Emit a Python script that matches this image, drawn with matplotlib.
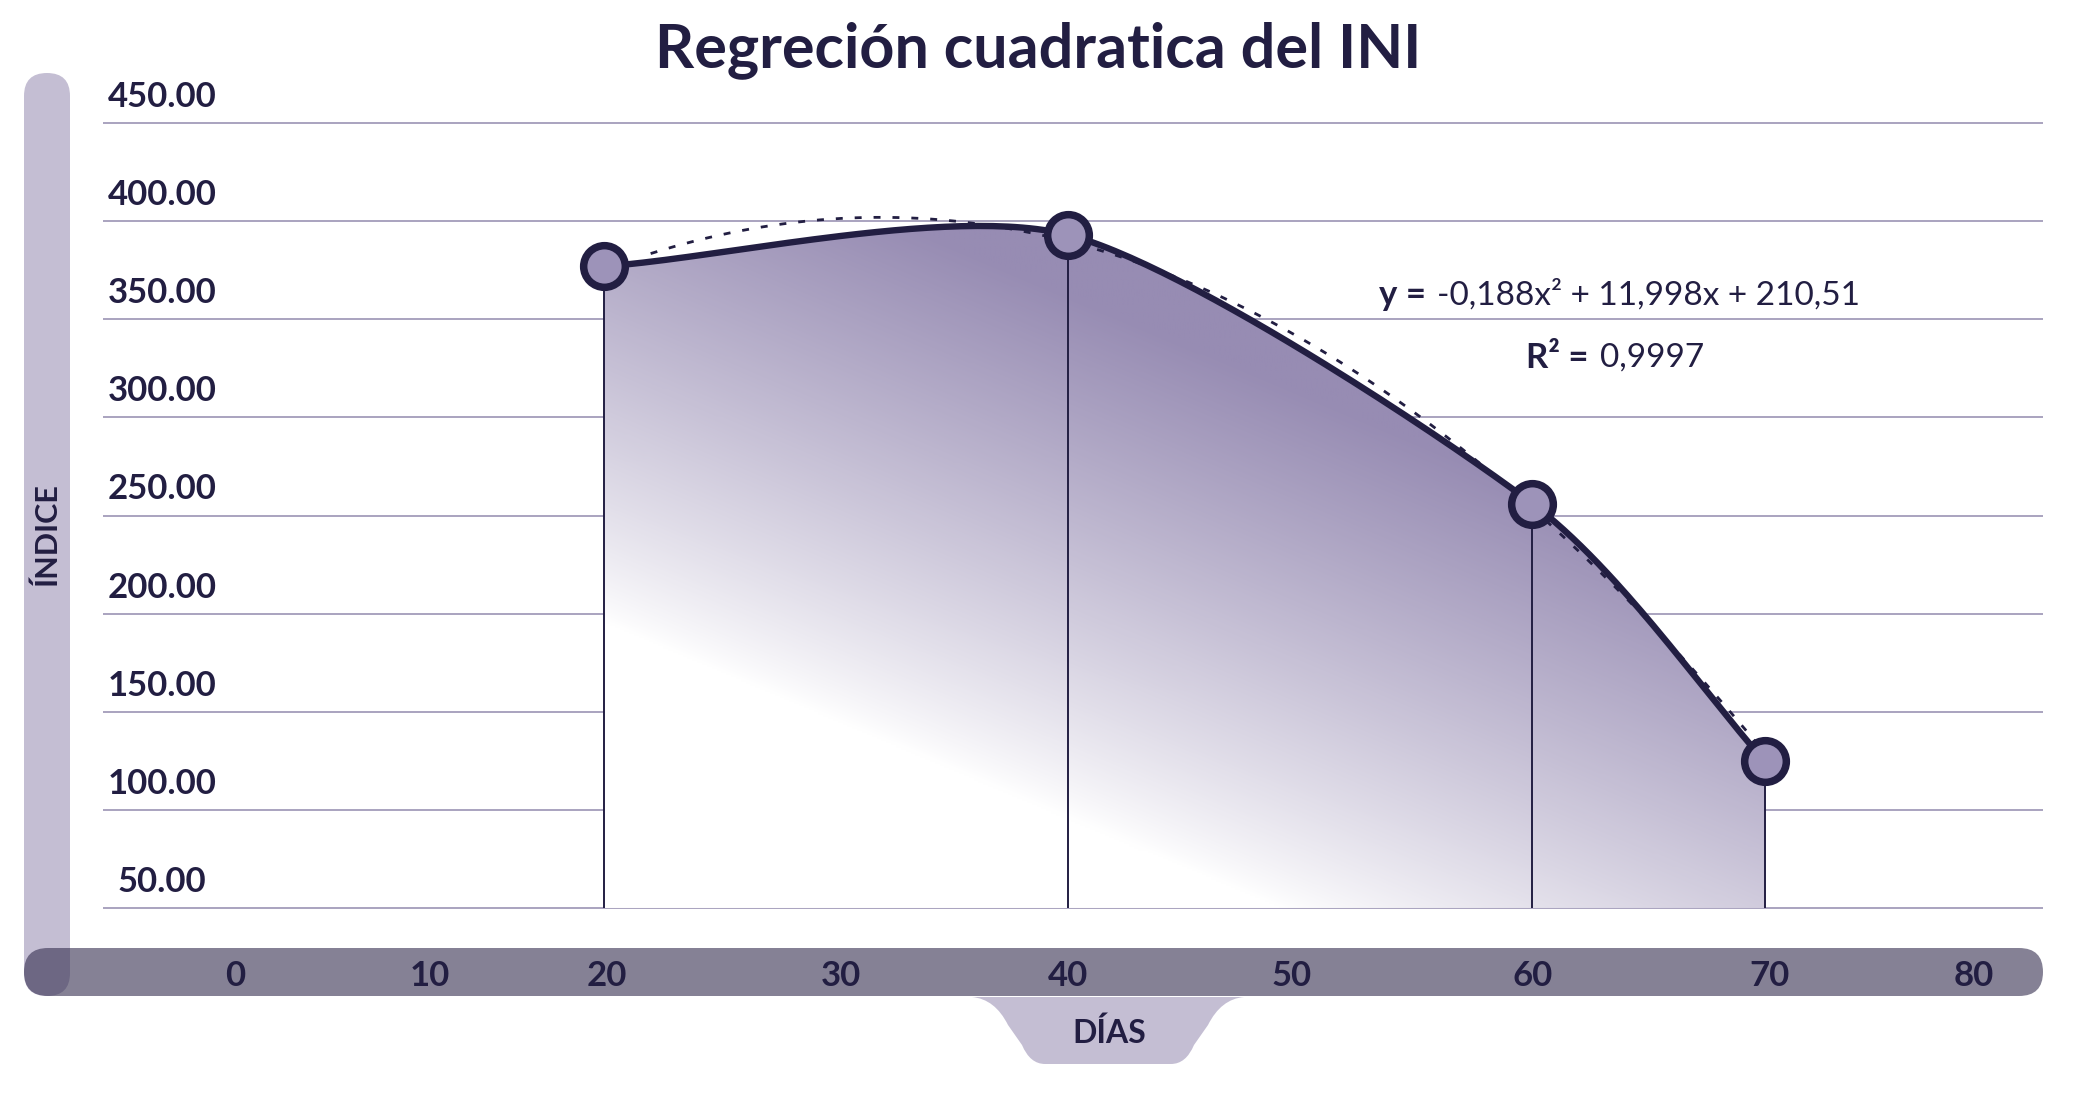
# Regresión cuadrática del INI - recreación con matplotlib
import numpy as np
import matplotlib.pyplot as plt
from matplotlib.patches import FancyBboxPatch, PathPatch, Polygon
from matplotlib.path import Path
from matplotlib.colors import LinearSegmentedColormap

plt.rcParams['font.family'] = ['Lato', 'DejaVu Sans']

# datos
dias = [20, 40, 60, 70]
indice = [377, 393, 256, 125]
coef = [-0.188, 11.998, 210.51]     # y = a x^2 + b x + c
fit_range = [22, 70]
y_ticks = [50, 100, 150, 200, 250, 300, 350, 400, 450]
x_labels = ['0', '10', '20', '30', '40', '50', '60', '70', '80']
x_label_pos = [4.1, 12.5, 20.1, 30.2, 40.0, 49.6, 60.0, 70.2, 79.0]

DARK = '#221e42'
PURPLE = '#978cb3'
GRID = '#a9a3bf'
LAV = '#c4bed3'

W, H = 2076, 1098
fig = plt.figure(figsize=(W / 100, H / 100), dpi=100)

# capa de fondo en pixeles
bg = fig.add_axes([0, 0, 1, 1], zorder=0)
bg.set_xlim(0, W)
bg.set_ylim(H, 0)
bg.axis('off')

# barra vertical izquierda
bg.add_patch(FancyBboxPatch((24, 73), 46, 923, boxstyle='round,pad=0,rounding_size=23',
                            fc=LAV, ec='none'))
# barra horizontal inferior
bg.add_patch(FancyBboxPatch((24, 948), 2019, 48, boxstyle='round,pad=0,rounding_size=24',
                            fc=(48 / 255, 42 / 255, 75 / 255), alpha=0.59, ec='none'))
# pestaña DÍAS
verts = [(972, 997), (995, 999), (1008, 1025), (1022, 1045), (1030, 1064), (1045, 1064),
         (1171, 1064), (1186, 1064), (1194, 1045), (1208, 1025), (1221, 999), (1244, 997),
         (972, 997)]
codes = [Path.MOVETO, Path.CURVE3, Path.CURVE3, Path.LINETO, Path.CURVE3, Path.CURVE3,
         Path.LINETO, Path.CURVE3, Path.CURVE3, Path.LINETO, Path.CURVE3, Path.CURVE3,
         Path.CLOSEPOLY]
bg.add_patch(PathPatch(Path(verts, codes), fc=LAV, ec='none'))
bg.text(1109, 1033, 'DÍAS', ha='center', va='center', fontsize=23, fontweight='bold', color=DARK)
bg.text(47, 534, 'ÍNDICE', ha='center', va='center', rotation=90, fontsize=22,
        fontweight='bold', color=DARK)

# ejes principales
x0, x1 = 103, 2043
ylo_px, yhi_px = 927.6, 103.4
ax = fig.add_axes([x0 / W, 1 - ylo_px / H, (x1 - x0) / W, (ylo_px - yhi_px) / H], zorder=1)
ax.patch.set_alpha(0)
ax.set_xlim(-1.6, 82.0)
ax.set_ylim(40, 460)
ax.axis('off')

for v in y_ticks:
    ax.axhline(v, color=GRID, lw=1.4, zorder=1)
    ax.text(0.0304, v + 13.3, f'{v:.2f}', transform=ax.get_yaxis_transform(),
            ha='center', va='center', fontsize=25, fontweight='bold', color=DARK)

for p, lab in zip(x_label_pos, x_labels):
    ax.text(p, -0.0587, lab, transform=ax.get_xaxis_transform(), ha='center', va='center',
            fontsize=25, fontweight='bold', color=DARK)

# linea suavizada (bezier tipo Catmull-Rom)
P = np.column_stack([dias, indice]).astype(float)
k = 0.25
T = np.zeros_like(P)
T[0] = P[1] - P[0]
T[-1] = P[-1] - P[-2]
for i in range(1, len(P) - 1):
    T[i] = (P[i + 1] - P[i - 1]) / 2
t = np.linspace(0, 1, 60)[:, None]
segs = []
for i in range(len(P) - 1):
    b0, b3 = P[i], P[i + 1]
    b1, b2 = b0 + k * T[i], b3 - k * T[i + 1]
    segs.append((1 - t) ** 3 * b0 + 3 * (1 - t) ** 2 * t * b1 + 3 * (1 - t) * t ** 2 * b2 + t ** 3 * b3)
curve = np.vstack(segs)

# relleno con degradado
poly = np.vstack([curve, [dias[-1], y_ticks[0]], [dias[0], y_ticks[0]]])
clip = Polygon(poly, closed=True, transform=ax.transData, fc='none', ec='none')
ax.add_patch(clip)
u = np.linspace(0, 1, 400)
v = np.linspace(1, 0, 400)
U, V = np.meshgrid(u, v)
Xp = x0 + U * (x1 - x0)
Yp = ylo_px - V * (ylo_px - yhi_px)
f = np.clip(0.0008 * Xp - 0.0019 * Yp + 0.70, 0, 1) ** 0.85
cmap = LinearSegmentedColormap.from_list('grad', ['#ffffff', PURPLE])
im = ax.imshow(f, cmap=cmap, vmin=0, vmax=1, extent=[0, 1, 0, 1], transform=ax.transAxes,
               aspect='auto', interpolation='bilinear', zorder=2)
im.set_clip_path(clip)

# lineas verticales
ax.vlines(dias, y_ticks[0], indice, color=DARK, lw=1.4, zorder=3)

# curva de ajuste punteada
xf = np.linspace(fit_range[0], fit_range[1], 200)
yf = coef[0] * xf ** 2 + coef[1] * xf + coef[2]
ax.plot(xf, yf, color=DARK, lw=2, linestyle=(0, (2.5, 4.3)), zorder=4)

ax.plot(curve[:, 0], curve[:, 1], color=DARK, lw=4.6, zorder=5, solid_capstyle='round')
ax.plot(dias, indice, 'o', ms=30, mfc='#9d93b9', mec=DARK, mew=5.4, zorder=6)

# ecuacion
eq = f'{coef[0]:.3f}x² + {coef[1]:.3f}x + {coef[2]:.2f}'.replace('.', ',')
fig.text(1426 / W, 1 - 295 / H, 'y =', ha='right', va='center', fontsize=25,
         fontweight='bold', color=DARK)
fig.text(1437 / W, 1 - 295 / H, eq, ha='left', va='center', fontsize=24, color=DARK)
fig.text(1588 / W, 1 - 358 / H, 'R² =', ha='right', va='center', fontsize=25,
         fontweight='bold', color=DARK)
fig.text(1600 / W, 1 - 358 / H, '0,9997', ha='left', va='center', fontsize=24, color=DARK)

fig.text(1038 / W, 1 - 50 / H, 'Regreción cuadratica del INI', ha='center', va='center',
         fontsize=44, fontweight='bold', color=DARK)

fig.savefig('out.png', dpi=100)
